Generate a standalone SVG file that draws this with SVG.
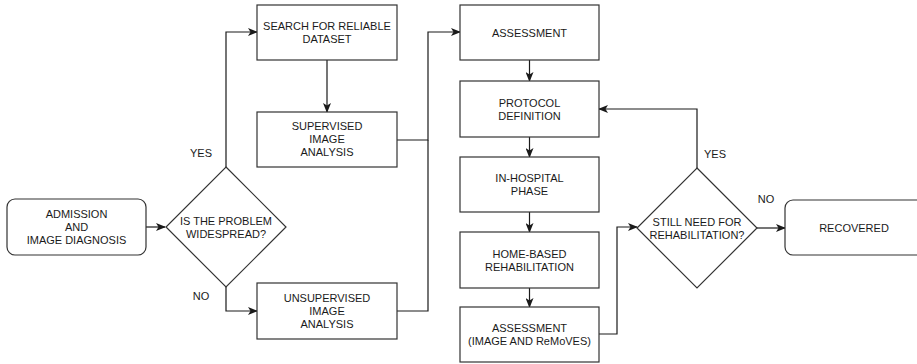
<svg xmlns="http://www.w3.org/2000/svg" width="917" height="364" viewBox="0 0 917 364">
  <defs>
    <style>
      .box { fill: #ffffff; stroke: #333333; stroke-width: 1.2; }
      .dia { fill: #ffffff; stroke: #333333; stroke-width: 1.2; }
      .lbl { font-family: "Liberation Sans", Arial, Helvetica, sans-serif; font-size: 11px; fill: #1a1a1a; text-anchor: middle; }
      .edge { fill: none; stroke: #1a1a1a; stroke-width: 1.2; }
      .arr { marker-end: url(#head); }
    </style>
    <marker id="head" viewBox="0 0 10 8" refX="9" refY="4" markerWidth="10" markerHeight="8" markerUnits="userSpaceOnUse" orient="auto">
      <path d="M0,0 L10,4 L0,8 L2.5,4 Z" fill="#1a1a1a"/>
    </marker>
  </defs>
  <rect width="917" height="364" fill="#ffffff"/>

  <!-- connectors -->
  <g id="connectors">
    <path class="edge arr" d="M146,227 H165"/>
    <path class="edge arr" d="M226,167 V32 H257"/>
    <path class="edge arr" d="M226,287 V311 H257"/>
    <path class="edge arr" d="M327,60 V112"/>
    <path class="edge arr" d="M397,140 H428 V32 H460"/>
    <path class="edge" d="M397,311 H428 V140"/>
    <path class="edge arr" d="M529.5,60 V81"/>
    <path class="edge arr" d="M529.5,137 V157"/>
    <path class="edge arr" d="M529.5,212 V232"/>
    <path class="edge arr" d="M529.5,288 V307"/>
    <path class="edge arr" d="M599,334 H617 V227 H637"/>
    <path class="edge arr" d="M697,168 V109 H599"/>
    <path class="edge arr" d="M757,228 H785"/>
    <text class="lbl" x="201" y="157">YES</text>
    <text class="lbl" x="201" y="300">NO</text>
    <text class="lbl" x="715" y="158">YES</text>
    <text class="lbl" x="766" y="203">NO</text>
  </g>

  <g id="admission">
    <rect class="box" x="7" y="199" width="139" height="56" rx="8"/>
    <text class="lbl" x="76.5" y="218">ADMISSION</text>
    <text class="lbl" x="76.5" y="231">AND</text>
    <text class="lbl" x="76.5" y="244">IMAGE DIAGNOSIS</text>
  </g>

  <g id="widespread">
    <path class="dia" d="M226,167 L286,227 L226,287 L166,227 Z"/>
    <text class="lbl" x="226" y="225">IS THE PROBLEM</text>
    <text class="lbl" x="226" y="238">WIDESPREAD?</text>
  </g>

  <g id="search">
    <rect class="box" x="257" y="5" width="140" height="55"/>
    <text class="lbl" x="327" y="30">SEARCH FOR RELIABLE</text>
    <text class="lbl" x="327" y="43">DATASET</text>
  </g>

  <g id="supervised">
    <rect class="box" x="257" y="112" width="140" height="55"/>
    <text class="lbl" x="327" y="130">SUPERVISED</text>
    <text class="lbl" x="327" y="143">IMAGE</text>
    <text class="lbl" x="327" y="156">ANALYSIS</text>
  </g>

  <g id="unsupervised">
    <rect class="box" x="257" y="283" width="140" height="56"/>
    <text class="lbl" x="327" y="302">UNSUPERVISED</text>
    <text class="lbl" x="327" y="315">IMAGE</text>
    <text class="lbl" x="327" y="328">ANALYSIS</text>
  </g>

  <g id="assessment">
    <rect class="box" x="460" y="5" width="139" height="55"/>
    <text class="lbl" x="529.5" y="36.5">ASSESSMENT</text>
  </g>

  <g id="protocol">
    <rect class="box" x="460" y="81" width="139" height="56"/>
    <text class="lbl" x="529.5" y="106.5">PROTOCOL</text>
    <text class="lbl" x="529.5" y="119.5">DEFINITION</text>
  </g>

  <g id="in-hospital">
    <rect class="box" x="460" y="157" width="139" height="55"/>
    <text class="lbl" x="529.5" y="182">IN-HOSPITAL</text>
    <text class="lbl" x="529.5" y="195">PHASE</text>
  </g>

  <g id="home-based">
    <rect class="box" x="460" y="232" width="139" height="56"/>
    <text class="lbl" x="529.5" y="257.5">HOME-BASED</text>
    <text class="lbl" x="529.5" y="270.5">REHABILITATION</text>
  </g>

  <g id="assessment-final">
    <rect class="box" x="460" y="307" width="139" height="55"/>
    <text class="lbl" x="529.5" y="332">ASSESSMENT</text>
    <text class="lbl" x="529.5" y="345">(IMAGE AND ReMoVES)</text>
  </g>

  <g id="still-need">
    <path class="dia" d="M697,168 L757,228 L697,288 L637,228 Z"/>
    <text class="lbl" x="697" y="226">STILL NEED FOR</text>
    <text class="lbl" x="697" y="239">REHABILITATION?</text>
  </g>

  <g id="recovered">
    <rect class="box" x="785" y="200" width="140" height="55" rx="8"/>
    <text class="lbl" x="854" y="231.5">RECOVERED</text>
  </g>
</svg>
